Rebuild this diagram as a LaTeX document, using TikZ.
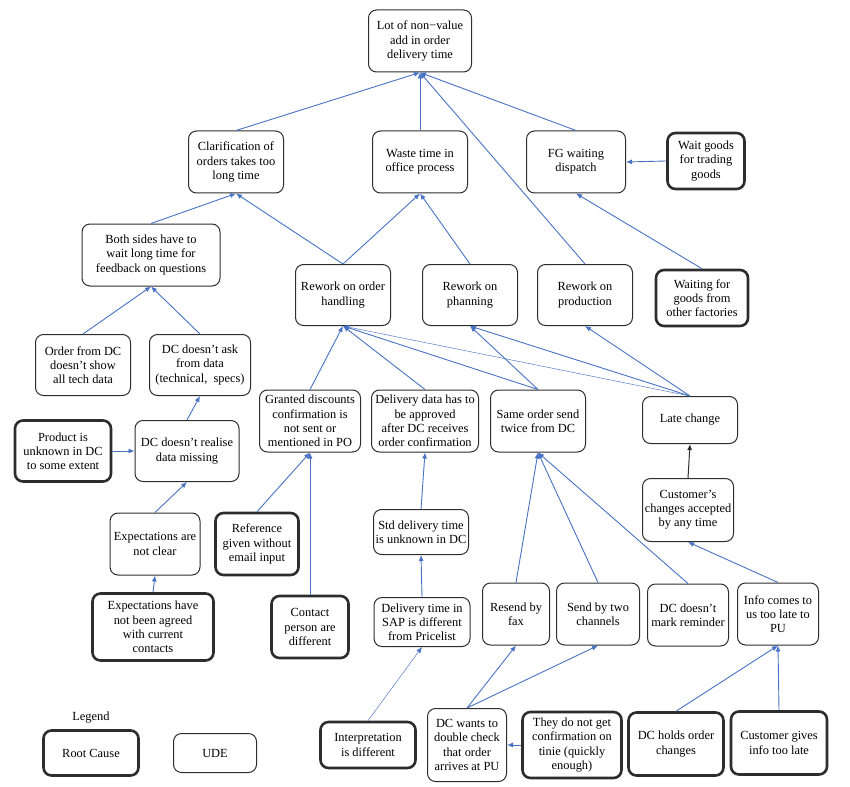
\documentclass[tikz,border=0pt]{standalone}
\usepackage{fontspec}
\setmainfont{Liberation Serif}
\usetikzlibrary{arrows.meta}
\definecolor{linkblue}{RGB}{72,114,196}
\definecolor{boxgray}{RGB}{45,45,45}

\begin{document}
\begin{tikzpicture}[x=1pt,y=-1pt,
  ude/.style={draw=boxgray,line width=1pt,rounded corners=8pt,align=center,inner sep=1pt,
    font=\fontsize{12.4}{14.2}\selectfont},
  rootcause/.style={ude,line width=2.6pt},
  cause/.style={draw=linkblue,line width=0.9pt,-{Latex[length=6pt,width=5pt]}},
  thincause/.style={cause,line width=0.45pt},
  blackcause/.style={draw=boxgray,line width=1pt,-{Latex[length=6pt,width=5pt]}}]
\useasboundingbox (0,0) rectangle (850,786);

% top and first level
\node[ude,minimum width=103pt,minimum height=62pt] (lot) at (420,41) {Lot of non−value\\add in order\\delivery time};
\node[ude,minimum width=95pt,minimum height=62pt] (clar) at (236,162) {Clarification of\\orders takes too\\long time};
\node[ude,minimum width=95pt,minimum height=62pt] (waste) at (420,162) {Waste time in\\office process};
\node[ude,minimum width=99pt,minimum height=62pt] (fg) at (576,162) {FG waiting\\dispatch};
\node[rootcause,minimum width=77pt,minimum height=56pt] (waitgoods) at (706,161) {Wait goods\\for trading\\goods};

% second level
\node[ude,minimum width=138pt,minimum height=62pt] (both) at (151,255) {Both sides have to\\wait long time for\\feedback on questions};
\node[ude,minimum width=95pt,minimum height=61pt] (rworder) at (343,295) {Rework on order\\handling};
\node[ude,minimum width=95pt,minimum height=61pt] (rwplan) at (470,295) {Rework on\\phanning};
\node[ude,minimum width=95pt,minimum height=61pt] (rwprod) at (585,295) {Rework on\\production};
\node[rootcause,minimum width=92pt,minimum height=56pt] (waitfact) at (702,298) {Waiting for\\goods from\\other factories};

% left branch
\node[ude,minimum width=95pt,minimum height=61pt] (orderdc) at (83,365) {Order from DC\\doesn’t show\\all tech data};
\node[ude,minimum width=101pt,minimum height=61pt] (dcask) at (200,365) {DC doesn’t ask\\from data\\(technical,\enspace specs)};
\node[rootcause,minimum width=96pt,minimum height=61pt] (product) at (63,451) {Product is\\unknown in DC\\to some extent};
\node[ude,minimum width=104pt,minimum height=61pt] (dcreal) at (187,451) {DC doesn’t realise\\data missing};
\node[ude,minimum width=90pt,minimum height=62pt] (expclear) at (155,544) {Expectations are\\not clear};
\node[rootcause,minimum width=121pt,minimum height=67pt] (expagreed) at (153,627) {Expectations have\\not been agreed\\with current\\contacts};

% middle branch
\node[ude,minimum width=101pt,minimum height=62pt] (granted) at (310,421) {Granted discounts\\confirmation is\\not sent or\\mentioned in PO};
\node[ude,minimum width=107pt,minimum height=62pt] (deldata) at (425,421) {Delivery data has to\\be approved\\after DC receives\\order confirmation};
\node[ude,minimum width=95pt,minimum height=62pt] (same) at (538,421) {Same order send\\twice from DC};
\node[ude,minimum width=95pt,minimum height=47pt] (late) at (690,420) {Late change};
\node[rootcause,minimum width=83pt,minimum height=62pt] (reference) at (257,544) {Reference\\given without\\email input};
\node[ude,minimum width=95pt,minimum height=45pt] (stdtime) at (421,532) {Std delivery time\\is unknown in DC};
\node[ude,minimum width=91pt,minimum height=63pt] (custchg) at (688,510) {Customer’s\\changes accepted\\by any time};
\node[rootcause,minimum width=77pt,minimum height=62pt] (contact) at (310,627) {Contact\\person are\\different};
\node[ude,minimum width=96pt,minimum height=49pt] (saptime) at (422,622) {Delivery time in\\SAP is different\\from Pricelist};
\node[ude,minimum width=67pt,minimum height=62pt] (resend) at (516,614) {Resend by\\fax};
\node[ude,minimum width=83pt,minimum height=62pt] (sendtwo) at (598,614) {Send by two\\channels};
\node[ude,minimum width=81pt,minimum height=62pt] (dcmark) at (688,615) {DC doesn’t\\mark reminder};
\node[ude,minimum width=81pt,minimum height=62pt] (infolate) at (778,614) {Info comes to\\us too late to\\PU};

% bottom row
\node[rootcause,minimum width=95pt,minimum height=46pt] (interp) at (368,745) {Interpretation\\is different};
\node[ude,minimum width=79pt,minimum height=73pt] (dcwants) at (467,745) {DC wants to\\double check\\that order\\arrives at PU};
\node[rootcause,minimum width=99pt,minimum height=66pt] (theydo) at (572,745) {They do not get\\confirmation on\\tinie (quickly\\enough)};
\node[rootcause,minimum width=95pt,minimum height=63pt] (dcholds) at (676,744) {DC holds order\\changes};
\node[rootcause,minimum width=96pt,minimum height=63pt] (custgives) at (779,743) {Customer gives\\info too late};

% legend
\node[font=\fontsize{12.4}{14.2}\selectfont] (legend) at (91,718) {Legend};
\node[rootcause,minimum width=95pt,minimum height=45pt] (rclegend) at (91,753) {Root Cause};
\node[ude,minimum width=83pt,minimum height=39pt] (udelegend) at (215,753) {UDE};

% links
\draw[cause] (clar.north) -- (lot.south);
\draw[cause] (waste.north) -- (lot.south);
\draw[cause] (fg.north) -- (lot.south);
\draw[cause] (rwprod.north) -- (lot.south);
\draw[cause] (waitgoods.west) -- (fg.east);
\draw[cause] (waitfact.north) -- (fg.south);
\draw[cause] (both.north) -- (clar.south);
\draw[cause] (rworder.north) -- (clar.south);
\draw[cause] (rworder.north) -- (waste.south);
\draw[cause] (rwplan.north) -- (waste.south);
\draw[cause] (orderdc.north) -- (both.south);
\draw[cause] (dcask.north) -- (both.south);
\draw[cause] (dcreal.north) -- (dcask.south);
\draw[cause] (product.east) -- (dcreal.west);
\draw[cause] (expclear.north) -- (dcreal.south);
\draw[cause] (expagreed.north) -- (expclear.south);
\draw[cause] (granted.north) -- (rworder.south);
\draw[cause] (deldata.north) -- (rworder.south);
\draw[cause] (same.north) -- (rworder.south);
\draw[cause] (same.north) -- (rwplan.south);
\draw[thincause] (late.north) -- (rworder.south);
\draw[cause] (late.north) -- (rwplan.south);
\draw[cause] (late.north) -- (rwprod.south);
\draw[cause] (reference.north) -- (granted.south);
\draw[cause] (contact.north) -- (granted.south);
\draw[cause] (stdtime.north) -- (deldata.south);
\draw[cause] (saptime.north) -- (stdtime.south);
\draw[thincause] (interp.north) -- (saptime.south);
\draw[cause] (resend.north) -- (same.south);
\draw[cause] (sendtwo.north) -- (same.south);
\draw[cause] (dcmark.north) -- (same.south);
\draw[cause] (dcwants.north) -- (resend.south);
\draw[cause] (dcwants.north) -- (sendtwo.south);
\draw[cause] (theydo.west) -- (dcwants.east);
\draw[blackcause] (custchg.north) -- (late.south);
\draw[cause] (infolate.north) -- (custchg.south);
\draw[cause] (dcholds.north) -- (infolate.south);
\draw[cause] (custgives.north) -- (infolate.south);
\end{tikzpicture}
\end{document}
